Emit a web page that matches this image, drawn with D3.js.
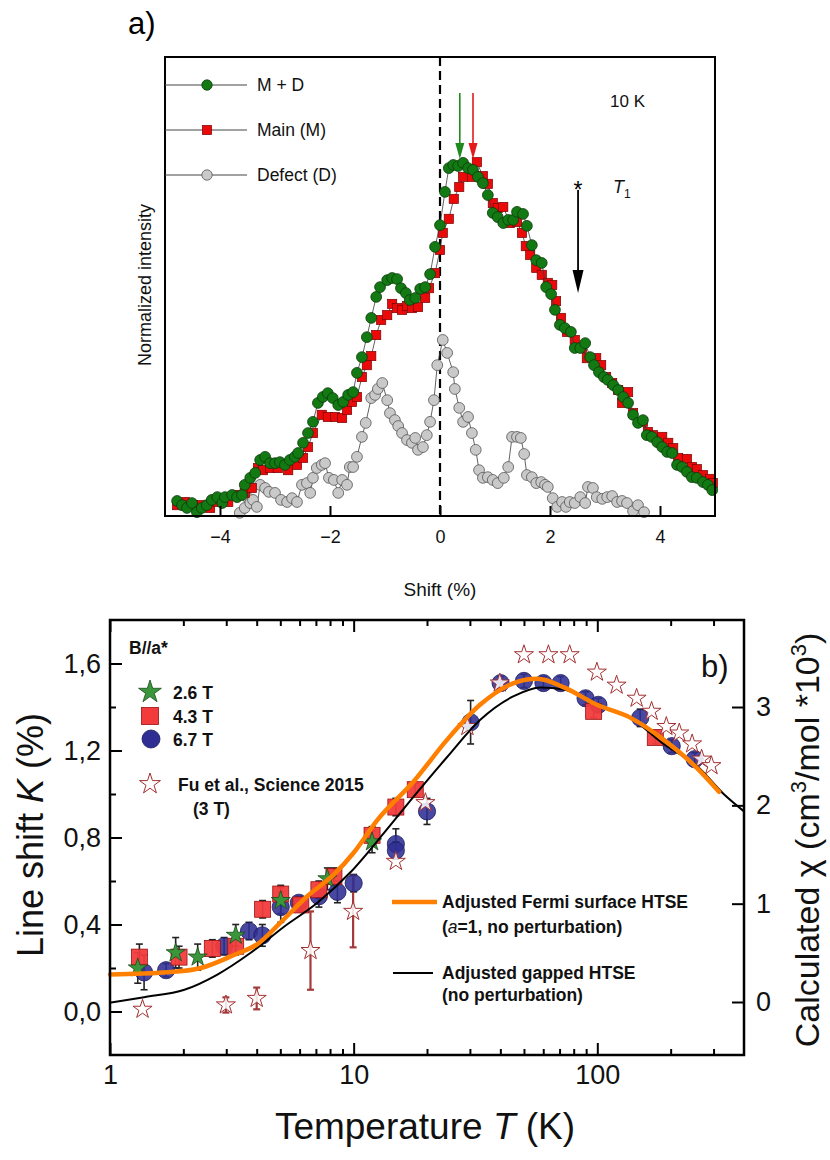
<!DOCTYPE html>
<html>
<head>
<meta charset="utf-8">
<script src="https://cdn.jsdelivr.net/npm/d3@7"></script>
<style>
  html, body { margin: 0; padding: 0; background: #fff; }
  svg { display: block; font-family: "Liberation Sans", Arial, Helvetica, sans-serif; }
</style>
</head>
<body>
<svg id="chart" width="830" height="1160"></svg>
<script>
// ---------------- Panel a) data: [shift (%), normalized intensity] ----------------
const mdData = [
  [-4.78,0.043],[-4.69,0.031],[-4.60,0.023],[-4.51,0.037],[-4.42,0.011],[-4.33,0.023],[-4.24,0.031],[-4.15,0.046],
  [-4.05,0.054],[-3.96,0.037],[-3.91,0.054],[-3.78,0.060],[-3.69,0.054],[-3.60,0.060],[-3.55,0.089],[-3.45,0.109],
  [-3.36,0.123],[-3.27,0.160],[-3.18,0.169],[-3.09,0.151],[-3.00,0.151],[-2.91,0.154],[-2.82,0.146],[-2.73,0.160],
  [-2.64,0.169],[-2.58,0.180],[-2.49,0.209],[-2.40,0.237],[-2.31,0.269],[-2.22,0.323],[-2.13,0.340],[-2.04,0.351],
  [-1.95,0.337],[-1.85,0.317],[-1.76,0.326],[-1.67,0.346],[-1.58,0.354],[-1.51,0.409],[-1.42,0.454],[-1.33,0.511],
  [-1.25,0.566],[-1.16,0.626],[-1.09,0.654],[-0.96,0.674],[-0.87,0.680],[-0.78,0.677],[-0.71,0.651],[-0.62,0.637],
  [-0.55,0.617],[-0.45,0.623],[-0.36,0.649],[-0.27,0.654],[-0.18,0.691],[-0.09,0.769],[0.00,0.831],[0.09,0.926],
  [0.16,0.994],[0.24,1.003],[0.33,1.000],[0.42,1.009],[0.51,0.994],[0.60,0.989],[0.69,0.969],[0.78,0.951],
  [0.87,0.917],[0.96,0.866],[1.05,0.854],[1.15,0.837],[1.24,0.846],[1.33,0.846],[1.40,0.869],[1.51,0.863],
  [1.58,0.829],[1.67,0.774],[1.75,0.731],[1.85,0.723],[1.93,0.654],[2.02,0.634],[2.09,0.589],[2.18,0.546],
  [2.27,0.537],[2.38,0.526],[2.45,0.480],[2.55,0.480],[2.64,0.494],[2.73,0.454],[2.80,0.431],[2.89,0.411],
  [2.98,0.397],[3.05,0.389],[3.15,0.374],[3.24,0.360],[3.33,0.340],[3.42,0.323],[3.51,0.289],[3.60,0.266],
  [3.69,0.274],[3.76,0.231],[3.85,0.226],[3.95,0.211],[4.04,0.197],[4.13,0.183],[4.22,0.180],[4.31,0.146],
  [4.40,0.140],[4.49,0.126],[4.58,0.111],[4.67,0.109],[4.78,0.097],[4.87,0.089],[4.95,0.074]
];
const mainData = [
  [-4.78,0.031],[-4.64,0.040],[-4.49,0.031],[-4.33,0.031],[-4.18,0.023],[-4.04,0.040],[-3.85,0.040],[-3.67,0.060],
  [-3.55,0.066],[-3.42,0.080],[-3.31,0.137],[-3.22,0.131],[-3.09,0.137],[-2.95,0.137],[-2.76,0.131],[-2.60,0.146],
  [-2.49,0.166],[-2.40,0.197],[-2.31,0.237],[-2.15,0.289],[-2.04,0.283],[-1.91,0.283],[-1.78,0.280],[-1.69,0.303],
  [-1.60,0.326],[-1.51,0.340],[-1.42,0.397],[-1.33,0.431],[-1.25,0.457],[-1.16,0.517],[-1.07,0.560],[-0.96,0.574],
  [-0.87,0.606],[-0.78,0.594],[-0.69,0.589],[-0.60,0.600],[-0.51,0.594],[-0.40,0.597],[-0.27,0.623],[-0.20,0.651],
  [-0.09,0.694],[0.00,0.760],[0.05,0.809],[0.16,0.849],[0.25,0.906],[0.35,0.940],[0.42,0.969],[0.58,0.969],
  [0.67,1.011],[0.78,0.971],[0.87,0.949],[0.96,0.894],[1.05,0.880],[1.15,0.883],[1.27,0.837],[1.40,0.840],
  [1.49,0.809],[1.56,0.771],[1.64,0.746],[1.75,0.709],[1.85,0.689],[1.96,0.666],[2.04,0.660],[2.11,0.614],
  [2.20,0.566],[2.31,0.526],[2.45,0.503],[2.58,0.480],[2.67,0.451],[2.84,0.451],[2.93,0.431],[3.02,0.397],
  [3.13,0.380],[3.24,0.360],[3.31,0.323],[3.42,0.354],[3.51,0.294],[3.69,0.269],[3.78,0.240],[3.87,0.231],
  [4.04,0.226],[4.15,0.209],[4.24,0.194],[4.33,0.166],[4.49,0.163],[4.58,0.140],[4.67,0.134],[4.78,0.117],
  [4.91,0.106],[4.96,0.094]
];
const defectData = [
  [-3.64,0.009],[-3.55,0.023],[-3.49,0.051],[-3.45,0.037],[-3.40,0.046],[-3.33,0.026],[-3.27,0.089],[-3.18,0.080],
  [-3.11,0.069],[-3.00,0.066],[-2.89,0.046],[-2.78,0.040],[-2.69,0.051],[-2.60,0.040],[-2.51,0.089],[-2.42,0.094],
  [-2.36,0.066],[-2.31,0.109],[-2.24,0.137],[-2.15,0.146],[-2.09,0.151],[-2.02,0.109],[-1.93,0.103],[-1.85,0.066],
  [-1.78,0.103],[-1.69,0.089],[-1.64,0.140],[-1.58,0.140],[-1.51,0.169],[-1.42,0.226],[-1.35,0.266],[-1.25,0.337],
  [-1.18,0.346],[-1.13,0.363],[-1.05,0.380],[-0.96,0.331],[-0.91,0.294],[-0.82,0.274],[-0.76,0.257],[-0.69,0.237],
  [-0.60,0.217],[-0.51,0.209],[-0.45,0.223],[-0.40,0.189],[-0.31,0.197],[-0.24,0.231],[-0.18,0.269],[-0.11,0.331],
  [-0.05,0.431],[0.05,0.503],[0.13,0.466],[0.24,0.411],[0.27,0.363],[0.35,0.309],[0.42,0.269],[0.51,0.283],
  [0.58,0.237],[0.65,0.189],[0.71,0.131],[0.78,0.109],[0.87,0.111],[0.96,0.103],[1.05,0.094],[1.16,0.109],
  [1.24,0.140],[1.31,0.226],[1.40,0.226],[1.47,0.223],[1.53,0.177],[1.58,0.117],[1.67,0.111],[1.75,0.094],
  [1.84,0.097],[1.91,0.089],[1.96,0.083],[2.05,0.051],[2.13,0.026],[2.22,0.040],[2.29,0.026],[2.36,0.040],
  [2.45,0.037],[2.55,0.054],[2.64,0.037],[2.69,0.083],[2.78,0.080],[2.85,0.054],[2.95,0.049],[3.04,0.054],
  [3.13,0.057],[3.22,0.040],[3.31,0.043],[3.40,0.037],[3.51,0.014],[3.60,0.031],[3.71,0.011]
];
const topTicks = [-4, -2, 0, 2, 4];
const topLegend = ["M + D", "Main (M)", "Defect (D)"];
const peakArrows = [0.36, 0.60];     // shift positions of green (M+D) and red (M) peak arrows
const t1Arrow = 2.51;                // shift position of the T1 arrow

// ---------------- Panel b) data ----------------
const tempsB26 = [1.30, 1.86, 2.29, 3.28, 5.02, 7.8, 11.9];
const kB26     = [0.20, 0.27, 0.25, 0.35, 0.51, 0.61, 0.78];
const errB26   = [0.07, 0.07, 0.06, 0.05, 0.06, 0.05, 0.05];

const tempsB43 = [1.32, 1.92, 2.63, 3.28, 4.23, 5.02, 6.07, 7.2, 8.3, 11.9, 14.9, 17.9, 96.6, 173];
const kB43     = [0.25, 0.25, 0.29, 0.30, 0.47, 0.54, 0.49, 0.56, 0.62, 0.81, 0.94, 1.02, 1.38, 1.26];
const errB43   = [0.06, 0.05, 0.04, 0.04, 0.04, 0.04, 0.03, 0.04, 0.04, 0.04, 0.04, 0.03, 0.03, 0.03];

const tempsB67 = [1.38, 1.70, 2.94, 3.72, 4.22, 5.02, 5.96, 7.2, 8.58, 10.0, 14.9, 14.9, 20.0, 30.2,
                  40.1, 50.0, 60.1, 70.7, 89.5, 101, 150, 202, 251];
const kB67     = [0.18, 0.19, 0.30, 0.37, 0.35, 0.48, 0.50, 0.53, 0.55, 0.59, 0.77, 0.74, 0.92, 1.33,
                  1.51, 1.52, 1.51, 1.51, 1.44, 1.41, 1.35, 1.22, 1.16];
const errB67   = [0.08, 0.03, 0.04, 0.04, 0.05, 0.07, 0.03, 0.05, 0.05, 0.04, 0.07, 0.04, 0.06, 0.10,
                  0.03, 0.03, 0.03, 0.03, 0.03, 0.03, 0.04, 0.03, 0.03];

const tempsFu = [1.36, 2.99, 4.0, 6.65, 9.95, 14.9, 19.7, 29.3, 39.8, 50, 63, 77, 99.6, 120, 145, 167, 192, 217, 245, 268, 294];
const kFu     = [0.01, 0.03, 0.06, 0.28, 0.46, 0.69, 0.96, 1.31, 1.51, 1.64, 1.64, 1.64, 1.56, 1.50, 1.44, 1.38, 1.31, 1.28, 1.23, 1.16, 1.13];
const errFu   = [0, 0.035, 0.05, 0.18, 0.165, 0, 0, 0, 0, 0, 0, 0, 0, 0, 0, 0, 0, 0, 0, 0, 0];

const tempsFermi = [1, 1.72, 2.36, 3.23, 4.03, 5.02, 6.45, 8.3, 10, 12.5, 17.7, 24.2, 33, 45.4, 56.8, 73, 99.6, 137, 187, 256, 316];
const kFermi     = [0.17, 0.18, 0.20, 0.26, 0.31, 0.41, 0.53, 0.63, 0.73, 0.88, 1.06, 1.25, 1.41, 1.51, 1.53, 1.49, 1.41, 1.35, 1.25, 1.12, 1.01];

const tempsGap = [1, 1.38, 2.02, 2.76, 3.78, 5.18, 7.1, 9.7, 13.3, 17.7, 24.2, 33, 45.4, 58.5, 73, 99.6, 137, 187, 256, 330, 400];
const kGap     = [0.04, 0.066, 0.10, 0.17, 0.27, 0.39, 0.50, 0.64, 0.82, 0.99, 1.17, 1.34, 1.45, 1.49, 1.48, 1.41, 1.35, 1.23, 1.13, 1.00, 0.92];

const kTicks   = [0, 0.4, 0.8, 1.2, 1.6];
const kMinor   = [0.2, 0.6, 1.0, 1.4];
const chiTicks = [0, 1, 2, 3];
const tMajor   = [1, 10, 100];
const tMinor   = [2,3,4,5,6,7,8,9,20,30,40,50,60,70,80,90,200,300];
const fieldLegend = ["2.6 T", "4.3 T", "6.7 T"];

// ---------------- drawing ----------------
const svg = d3.select("#chart");
svg.append("rect").attr("width", 830).attr("height", 1160).attr("fill", "#fff");

// ===== Panel a =====
const xA = d3.scaleLinear().domain([-5, 5]).range([165, 715]);
const yA = d3.scaleLinear().domain([0, 1]).range([516, 166]);
const aTop = 57, aBot = 516;

svg.append("text").attr("x", 128).attr("y", 34).attr("font-size", 31).text("a)");

const gA = svg.append("g");
// dashed zero line
gA.append("line").attr("x1", xA(0)).attr("x2", xA(0)).attr("y1", aTop).attr("y2", aBot)
  .attr("stroke", "#000").attr("stroke-width", 2.2).attr("stroke-dasharray", "9,5");

const lineA = d3.line().x(d => xA(d[0])).y(d => yA(d[1]));
function drawSeries(data, kind) {
  gA.append("path").attr("d", lineA(data)).attr("fill", "none").attr("stroke", "#3a3a3a").attr("stroke-width", 0.8);
  if (kind === "sq") {
    gA.append("g").selectAll("rect").data(data).join("rect")
      .attr("x", d => xA(d[0]) - 4.6).attr("y", d => yA(d[1]) - 4.6).attr("width", 9.2).attr("height", 9.2)
      .attr("fill", "#ea0a0a").attr("stroke", "#7a0000").attr("stroke-width", 0.7);
  } else {
    const fill = kind === "green" ? "#137a13" : "#c9c9c9";
    const stroke = kind === "green" ? "#0b3a0b" : "#555";
    gA.append("g").selectAll("circle").data(data).join("circle")
      .attr("cx", d => xA(d[0])).attr("cy", d => yA(d[1])).attr("r", 5.4)
      .attr("fill", fill).attr("stroke", stroke).attr("stroke-width", 0.8);
  }
}
drawSeries(defectData, "gray");
drawSeries(mainData, "sq");
drawSeries(mdData, "green");

// frame
svg.append("rect").attr("x", 165).attr("y", aTop).attr("width", 550).attr("height", aBot - aTop)
  .attr("fill", "none").attr("stroke", "#000").attr("stroke-width", 2);

// x axis
const axA = d3.axisBottom(xA).tickValues(topTicks).tickSizeInner(-10).tickSizeOuter(0).tickPadding(14)
  .tickFormat(d => d < 0 ? "\u2212" + Math.abs(d) : d);
const gAx = svg.append("g").attr("transform", `translate(0,${aBot})`).call(axA);
gAx.select(".domain").remove();
gAx.selectAll(".tick line").attr("stroke", "#000").attr("stroke-width", 2);
gAx.selectAll(".tick text").attr("font-size", 18).attr("fill", "#111")
  .attr("font-family", "Liberation Sans, Arial, sans-serif");

svg.append("text").attr("x", xA(0)).attr("y", 596).attr("text-anchor", "middle").attr("font-size", 19)
  .attr("fill", "#111").text("Shift (%)");
svg.append("text").attr("transform", "translate(151,285) rotate(-90)").attr("text-anchor", "middle")
  .attr("font-size", 18).attr("fill", "#111").text("Normalized intensity");

// legend panel a
const legYs = [85, 130, 175];
topLegend.forEach((name, i) => {
  const y = legYs[i];
  svg.append("line").attr("x1", 165).attr("x2", 247).attr("y1", y).attr("y2", y).attr("stroke", "#444").attr("stroke-width", 1);
  if (i === 1) {
    svg.append("rect").attr("x", 207 - 4.6).attr("y", y - 4.6).attr("width", 9.2).attr("height", 9.2)
      .attr("fill", "#ea0a0a").attr("stroke", "#7a0000").attr("stroke-width", 0.7);
  } else {
    svg.append("circle").attr("cx", 207).attr("cy", y).attr("r", 5.2)
      .attr("fill", i === 0 ? "#137a13" : "#c9c9c9").attr("stroke", i === 0 ? "#0b3a0b" : "#555").attr("stroke-width", 0.8);
  }
  svg.append("text").attr("x", 257).attr("y", y + 6).attr("font-size", 17.5).attr("fill", "#111").text(name);
});

svg.append("text").attr("x", 610).attr("y", 107).attr("font-size", 17).attr("fill", "#111").text("10 K");

// peak arrows
const arrowCols = ["#1e8a1e", "#e41b1b"];
peakArrows.forEach((s, i) => {
  const x = xA(s);
  svg.append("line").attr("x1", x).attr("x2", x).attr("y1", 93).attr("y2", 146)
    .attr("stroke", arrowCols[i]).attr("stroke-width", 1.6);
  svg.append("path").attr("d", `M${x - 4.5},143 L${x + 4.5},143 L${x},159 Z`).attr("fill", arrowCols[i]);
});
// T1 arrow
{
  const x = xA(t1Arrow);
  svg.append("line").attr("x1", x).attr("x2", x).attr("y1", 190).attr("y2", 275).attr("stroke", "#000").attr("stroke-width", 1.8);
  svg.append("path").attr("d", `M${x - 5.5},270 L${x + 5.5},270 L${x},293 Z`).attr("fill", "#000");
  svg.append("text").attr("x", x).attr("y", 198).attr("text-anchor", "middle").attr("font-size", 23).text("*");
  const t = svg.append("text").attr("x", 613).attr("y", 193).attr("font-size", 18).attr("fill", "#111");
  t.append("tspan").attr("font-style", "italic").text("T");
  t.append("tspan").attr("font-size", 12).attr("dy", 5).text("1");
}

// ===== Panel b =====
const L = 110, R = 744, T = 620, B = 1055;
const xB = d3.scaleLog().domain([1, 400]).range([L, R]);
const yK = d3.scaleLinear().domain([-0.2, 1.8]).range([B, T]);
const yChi = d3.scaleLinear().domain([-0.539, 3.885]).range([B, T]);

const gB = svg.append("g");

// error bars
function errorBars(temps, ks, errs, color, width) {
  const d = temps.map((t, i) => ({t, k: ks[i], e: errs[i]})).filter(p => p.e > 0);
  const g = gB.append("g").attr("stroke", color).attr("stroke-width", width);
  g.selectAll("line.v").data(d).join("line")
    .attr("x1", p => xB(p.t)).attr("x2", p => xB(p.t))
    .attr("y1", p => yK(p.k - p.e)).attr("y2", p => yK(p.k + p.e));
  ["lo", "hi"].forEach(side => {
    g.selectAll("line." + side).data(d).join("line")
      .attr("x1", p => xB(p.t) - 3.5).attr("x2", p => xB(p.t) + 3.5)
      .attr("y1", p => yK(side === "lo" ? p.k - p.e : p.k + p.e))
      .attr("y2", p => yK(side === "lo" ? p.k - p.e : p.k + p.e));
  });
}
errorBars(tempsB67, kB67, errB67, "#222", 1.6);
errorBars(tempsB43, kB43, errB43, "#222", 1.6);
errorBars(tempsB26, kB26, errB26, "#222", 1.6);
errorBars(tempsFu, kFu, errFu, "#a43a3a", 2.2);

const star = (r) => d3.symbol().type(d3.symbolStar).size(r * r / 0.8908130915)();
// 6.7 T circles
gB.append("g").selectAll("circle").data(tempsB67.map((t, i) => [t, kB67[i]])).join("circle")
  .attr("cx", d => xB(d[0])).attr("cy", d => yK(d[1])).attr("r", 8.6)
  .attr("fill", "#2f2f93").attr("fill-opacity", 0.88).attr("stroke", "#1b1b5e").attr("stroke-width", 0.8);
// 4.3 T squares
gB.append("g").selectAll("rect").data(tempsB43.map((t, i) => [t, kB43[i]])).join("rect")
  .attr("x", d => xB(d[0]) - 8).attr("y", d => yK(d[1]) - 8).attr("width", 16).attr("height", 16)
  .attr("fill", "#f23c3c").attr("fill-opacity", 0.95).attr("stroke", "#9a1010").attr("stroke-width", 0.8);
// 2.6 T stars
gB.append("g").selectAll("path").data(tempsB26.map((t, i) => [t, kB26[i]])).join("path")
  .attr("transform", d => `translate(${xB(d[0])},${yK(d[1])})`).attr("d", star(10))
  .attr("fill", "#3a963a").attr("stroke", "#1c4a1c").attr("stroke-width", 0.8);
// Fu et al. open stars
gB.append("g").selectAll("path").data(tempsFu.map((t, i) => [t, kFu[i]])).join("path")
  .attr("transform", d => `translate(${xB(d[0])},${yK(d[1])})`).attr("d", star(10))
  .attr("fill", "#fff").attr("fill-opacity", 0.85).attr("stroke", "#a33030").attr("stroke-width", 1);

// curves
const lineB = d3.line().x(d => xB(d[0])).y(d => yK(d[1])).curve(d3.curveMonotoneX);
gB.append("path").attr("d", lineB(tempsGap.map((t, i) => [t, kGap[i]])))
  .attr("fill", "none").attr("stroke", "#000").attr("stroke-width", 2);
gB.append("path").attr("d", lineB(tempsFermi.map((t, i) => [t, kFermi[i]])))
  .attr("fill", "none").attr("stroke", "#ff8000").attr("stroke-width", 4.5).attr("stroke-linecap", "round");

// frame
svg.append("rect").attr("x", L).attr("y", T).attr("width", R - L).attr("height", B - T)
  .attr("fill", "none").attr("stroke", "#000").attr("stroke-width", 2.5);

const tickFont = "Liberation Sans, Arial, sans-serif";
function styleAxis(g, fs) {
  g.select(".domain").remove();
  g.selectAll(".tick line").attr("stroke", "#000").attr("stroke-width", 2);
  g.selectAll(".tick text").attr("font-size", fs).attr("fill", "#111").attr("font-family", tickFont);
}
// bottom axis
styleAxis(svg.append("g").attr("transform", `translate(0,${B})`)
  .call(d3.axisBottom(xB).tickValues(tMajor).tickSizeInner(-12).tickSizeOuter(0).tickPadding(10).tickFormat(d3.format("d"))), 27);
styleAxis(svg.append("g").attr("transform", `translate(0,${B})`)
  .call(d3.axisBottom(xB).tickValues(tMinor).tickSizeInner(-6).tickSizeOuter(0).tickFormat("")), 0);
// top mirror
styleAxis(svg.append("g").attr("transform", `translate(0,${T})`)
  .call(d3.axisTop(xB).tickValues(tMajor).tickSizeInner(-12).tickSizeOuter(0).tickFormat("")), 0);
styleAxis(svg.append("g").attr("transform", `translate(0,${T})`)
  .call(d3.axisTop(xB).tickValues(tMinor).tickSizeInner(-6).tickSizeOuter(0).tickFormat("")), 0);
// left axis
styleAxis(svg.append("g").attr("transform", `translate(${L},0)`)
  .call(d3.axisLeft(yK).tickValues(kTicks).tickSizeInner(-12).tickSizeOuter(0).tickPadding(9)
    .tickFormat(d => d3.format(".1f")(d).replace(".", ","))), 27);
styleAxis(svg.append("g").attr("transform", `translate(${L},0)`)
  .call(d3.axisLeft(yK).tickValues(kMinor).tickSizeInner(-6).tickSizeOuter(0).tickFormat("")), 0);
// right axis
styleAxis(svg.append("g").attr("transform", `translate(${R},0)`)
  .call(d3.axisRight(yChi).tickValues(chiTicks).tickSizeInner(-12).tickSizeOuter(0).tickPadding(12).tickFormat(d3.format("d"))), 27);

// axis titles
{
  const t = svg.append("text").attr("x", 425).attr("y", 1139).attr("text-anchor", "middle").attr("font-size", 37).attr("fill", "#111");
  t.append("tspan").text("Temperature ");
  t.append("tspan").attr("font-style", "italic").text("T");
  t.append("tspan").text(" (K)");
  const l = svg.append("text").attr("transform", "translate(43,835) rotate(-90)").attr("text-anchor", "middle")
    .attr("font-size", 36).attr("fill", "#111");
  l.append("tspan").text("Line shift ");
  l.append("tspan").attr("font-style", "italic").text("K");
  l.append("tspan").text(" (%)");
  const r = svg.append("text").attr("transform", "translate(819,840) rotate(-90)").attr("text-anchor", "middle")
    .attr("font-size", 34).attr("fill", "#111");
  r.append("tspan").text("Calculated \u03c7 (cm");
  r.append("tspan").attr("font-size", 22).attr("dy", -13).text("3");
  r.append("tspan").attr("dy", 13).text("/mol *10");
  r.append("tspan").attr("font-size", 22).attr("dy", -13).text("3");
  r.append("tspan").attr("dy", 13).text(")");
}

svg.append("text").attr("x", 701).attr("y", 677).attr("font-size", 31).attr("fill", "#111").text("b)");

// legend panel b
const lg = svg.append("g").attr("font-weight", "bold").attr("font-size", 17.5).attr("fill", "#111");
lg.append("text").attr("x", 129).attr("y", 654).text("B//a*");
const fieldYs = [692, 716, 739];
lg.append("path").attr("transform", `translate(150,${fieldYs[0]})`).attr("d", star(12))
  .attr("fill", "#3a963a").attr("stroke", "#1c4a1c").attr("stroke-width", 0.8);
lg.append("rect").attr("x", 141.5).attr("y", fieldYs[1] - 8.5).attr("width", 17).attr("height", 17)
  .attr("fill", "#f23c3c").attr("stroke", "#9a1010").attr("stroke-width", 0.8);
lg.append("circle").attr("cx", 151).attr("cy", fieldYs[2]).attr("r", 9)
  .attr("fill", "#2f2f93").attr("stroke", "#1b1b5e").attr("stroke-width", 0.8);
fieldLegend.forEach((s, i) => lg.append("text").attr("x", 173).attr("y", fieldYs[i] + 6.5).text(s));
lg.append("path").attr("transform", "translate(150,784)").attr("d", star(11))
  .attr("fill", "#fff").attr("stroke", "#a33030").attr("stroke-width", 1);
lg.append("text").attr("x", 178).attr("y", 791).text("Fu et al., Science 2015");
lg.append("text").attr("x", 193).attr("y", 815).text("(3 T)");

lg.append("line").attr("x1", 392).attr("x2", 437).attr("y1", 902).attr("y2", 902).attr("stroke", "#ff8000").attr("stroke-width", 4.5);
lg.append("text").attr("x", 442).attr("y", 908).text("Adjusted Fermi surface HTSE");
{
  const t = lg.append("text").attr("x", 442).attr("y", 933);
  t.append("tspan").text("(");
  t.append("tspan").attr("font-style", "italic").attr("font-weight", "normal").text("a");
  t.append("tspan").text("=1, no perturbation)");
}
lg.append("line").attr("x1", 393).attr("x2", 433).attr("y1", 973).attr("y2", 973).attr("stroke", "#000").attr("stroke-width", 2);
lg.append("text").attr("x", 442).attr("y", 979).text("Adjusted gapped HTSE");
lg.append("text").attr("x", 442).attr("y", 1001).text("(no perturbation)");
</script>
</body>
</html>
